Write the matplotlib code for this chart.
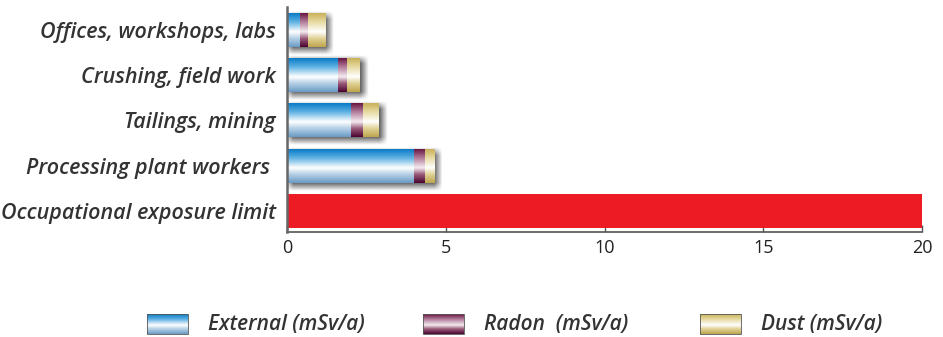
import numpy as np
import matplotlib
matplotlib.use("Agg")
import matplotlib.pyplot as plt
from matplotlib.colors import to_rgb

# dose data (mSv/a)
groups = ["Offices, workshops, labs", "Crushing, field work", "Tailings, mining",
          "Processing plant workers ", "Occupational exposure limit"]
external = [0.4, 1.6, 2.0, 4.0]
radon = [0.25, 0.3, 0.4, 0.35]
dust = [0.55, 0.4, 0.5, 0.3]
limit = 20
xticks = [0, 5, 10, 15, 20]
legend_labels = ["External (mSv/a)", "Radon  (mSv/a)", "Dust (mSv/a)"]

# vertical gradient stops (top -> bottom)
grad_ext = [(0.0, "#0b7cc6"), (0.25, "#5cb0e2"), (0.55, "#ffffff"), (0.75, "#b5d0e6"), (1.0, "#6b9cc6")]
grad_rad = [(0.0, "#6a1842"), (0.25, "#b07a98"), (0.55, "#f4ecf0"), (0.75, "#9a5a7a"), (1.0, "#4c0530")]
grad_dst = [(0.0, "#c9b25a"), (0.25, "#e6d9a0"), (0.55, "#ffffff"), (0.75, "#e0d296"), (1.0, "#bfa64e")]


def gradient(stops, n=64):
    t = np.linspace(0, 1, n)
    pos = [s[0] for s in stops]
    cols = np.array([to_rgb(s[1]) for s in stops])
    img = np.stack([np.interp(t, pos, cols[:, k]) for k in range(3)], axis=-1)
    return img[:, None, :]


fig = plt.figure(figsize=(9.43, 3.37), dpi=100)
ax = fig.add_axes([287 / 943, 105 / 337, 635 / 943, 225 / 337])

ypos = np.arange(len(groups))[::-1]
h = 0.75
ypx = 0.75 / 34.0
xpx = 20 / 635.0
ylo = -0.375 - 4 * ypx
yhi = ylo + 225 * ypx

bars_e = ax.barh(ypos[:4], external, height=h, color="none", zorder=3)
left_r = np.array(external)
bars_r = ax.barh(ypos[:4], radon, left=left_r, height=h, color="none", zorder=3)
left_d = left_r + np.array(radon)
bars_d = ax.barh(ypos[:4], dust, left=left_d, height=h, color="none", zorder=3)
ax.barh(ypos[4], limit, height=h, color="#ed1c24", zorder=3)

for bars, stops in [(bars_e, grad_ext), (bars_r, grad_rad), (bars_d, grad_dst)]:
    img = gradient(stops)
    for b in bars:
        x0, y0 = b.get_x(), b.get_y()
        ax.imshow(img, extent=(x0, x0 + b.get_width(), y0, y0 + b.get_height()),
                  aspect="auto", origin="upper", zorder=3, interpolation="bilinear")

# soft drop shadow behind each stacked bar
for b in bars_d:
    x0 = 0
    x1 = b.get_x() + b.get_width()
    y0, y1 = b.get_y(), b.get_y() + b.get_height()
    sx0, sx1 = x0 + 2 * xpx, x1 + 4 * xpx
    sy0, sy1 = y0 - 4 * ypx, y1 - 2 * ypx
    w = 4
    ex = (sx0 - w * xpx, sx1 + w * xpx, sy0 - w * ypx, sy1 + w * ypx)
    xs = np.linspace(ex[0], ex[1], 120)
    ys = np.linspace(ex[3], ex[2], 80)
    ax_ = np.clip((xs - (sx0 - w * xpx)) / (2 * w * xpx), 0, 1) * np.clip(((sx1 + w * xpx) - xs) / (2 * w * xpx), 0, 1)
    ay_ = np.clip((ys - (sy0 - w * ypx)) / (2 * w * ypx), 0, 1) * np.clip(((sy1 + w * ypx) - ys) / (2 * w * ypx), 0, 1)
    a = np.outer(ay_, ax_) * 0.75
    rgba = np.zeros((len(ys), len(xs), 4))
    rgba[..., :3] = 0.2
    rgba[..., 3] = a
    ax.imshow(rgba, extent=ex, aspect="auto", origin="upper", zorder=2, interpolation="bilinear")

ax.set_xlim(0, 20)
ax.set_ylim(ylo, yhi)
ax.set_yticks(ypos)
ax.set_yticklabels(groups, family="Open Sans", style="italic", fontweight="semibold",
                   fontsize=15.5, color="#333333")
ax.set_xticks(xticks)
ax.set_xticklabels([str(t) for t in xticks], family="Open Sans", fontsize=13, color="#222222")
ax.tick_params(axis="y", length=0, pad=8)
ax.tick_params(axis="x", length=5, width=1, direction="in", pad=5, color="#555555")
for s in ["top", "right"]:
    ax.spines[s].set_visible(False)
ax.spines["left"].set_color("#666666")
ax.spines["left"].set_linewidth(1.8)
ax.spines["bottom"].set_color("#555555")
ax.spines["bottom"].set_linewidth(1.2)
ax.spines["left"].set_zorder(4)

# legend drawn in pixel coordinates of an overlay axes
lax = fig.add_axes([0, 0, 1, 1], zorder=-1)
lax.set_xlim(0, 943)
lax.set_ylim(337, 0)
lax.axis("off")
leg_x = [147, 423, 700]
for lx, stops, lab in zip(leg_x, [grad_ext, grad_rad, grad_dst], legend_labels):
    lax.imshow(gradient(stops), extent=(lx, lx + 41, 334, 314), aspect="auto",
               origin="upper", interpolation="bilinear")
    lax.add_patch(plt.Rectangle((lx, 314), 41, 20, fill=False, edgecolor="#555555", linewidth=0.6))
    lax.text(lx + 61, 324.5, lab, family="Open Sans", style="italic", fontweight="semibold",
             fontsize=15, color="#333333", va="center", ha="left")
lax.set_xlim(0, 943)
lax.set_ylim(337, 0)

fig.savefig("out.png", dpi=100)
